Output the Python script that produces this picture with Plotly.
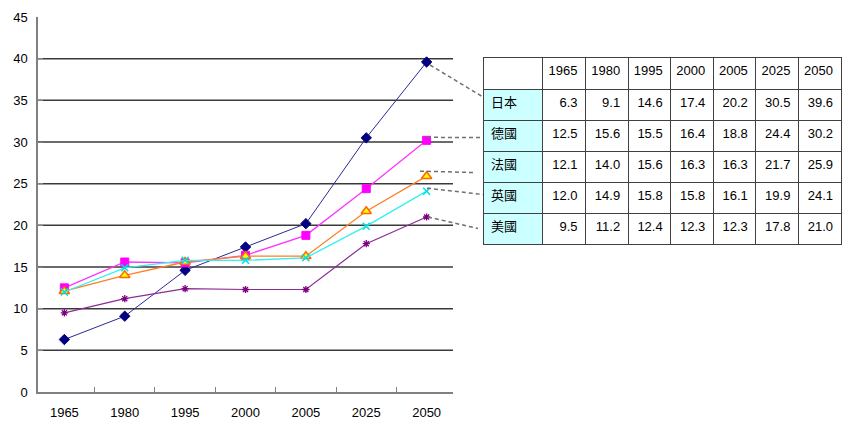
import plotly.graph_objects as go

# ---- data -------------------------------------------------------------
years = ["1965", "1980", "1995", "2000", "2005", "2025", "2050"]
countries = ["日本", "德國", "法國", "英國", "美國"]

japan = [6.3, 9.1, 14.6, 17.4, 20.2, 30.5, 39.6]
germany = [12.5, 15.6, 15.5, 16.4, 18.8, 24.4, 30.2]
france = [12.1, 14.0, 15.6, 16.3, 16.3, 21.7, 25.9]
britain = [12.0, 14.9, 15.8, 15.8, 16.1, 19.9, 24.1]
usa = [9.5, 11.2, 12.4, 12.3, 12.3, 17.8, 21.0]

y_ticks = [0, 5, 10, 15, 20, 25, 30, 35, 40, 45]
grid_values = [5, 10, 15, 20, 25, 30, 35, 40]

series = [japan, germany, france, britain, usa]

# ---- page geometry ----------------------------------------------------
W, H = 842, 423
ML, MR, MT, MB = 38, 0, 17, 31
PW, PH = W - ML - MR, H - MT - MB
PLOT_RIGHT = 453
Y_MAX = 45

def px_x(px):
    return (px - ML) / PW

def px_y(py):
    return (H - MB - py) / PH

FONT = "Liberation Sans, Noto Sans CJK TC, sans-serif"

styles = [
    dict(line=dict(color="#2a2a96", width=1),
         marker=dict(symbol="diamond", size=8, color="#000080",
                     line=dict(color="#000080", width=1))),
    dict(line=dict(color="#ff33ff", width=1.3),
         marker=dict(symbol="square", size=8, color="#ff00ff",
                     line=dict(color="#ff00ff", width=1))),
    dict(line=dict(color="#ff7f27", width=1.3),
         marker=dict(symbol="triangle-up", size=9, color="#ffff00",
                     line=dict(color="#ff6600", width=1.5))),
    dict(line=dict(color="#33f0f0", width=1.3),
         marker=dict(symbol="x-thin-open", size=7, color="#00e0e0",
                     line=dict(color="#00e0e0", width=1.5))),
    dict(line=dict(color="#8e2a96", width=1.2),
         marker=dict(symbol="asterisk-open", size=6, color="#800080",
                     line=dict(color="#800080", width=1.3))),
]

fig = go.Figure()

for name, vals, st in zip(countries, series, styles):
    fig.add_trace(go.Scatter(
        x=years, y=vals, name=name, mode="lines+markers",
        line=st["line"], marker=st["marker"],
        xaxis="x", yaxis="y", showlegend=False,
    ))

# ---- data table beside the chart ---------------------------------------
TABLE_LEFT, TABLE_RIGHT, TABLE_TOP = 483, 841, 57
HEADER_H, ROW_H = 32, 31
table_bottom = TABLE_TOP + HEADER_H + ROW_H * len(countries)

cell_cols = [countries] + [[f"{s[i]:.1f}" for s in series] for i in range(len(years))]
fill_cols = [["#ccffff"] * len(countries)] + [["#ffffff"] * len(countries)] * len(years)

fig.add_trace(go.Table(
    domain=dict(x=[px_x(TABLE_LEFT), px_x(TABLE_RIGHT)],
                y=[px_y(table_bottom + 2), px_y(TABLE_TOP)]),
    columnwidth=[60] + [42.6] * len(years),
    header=dict(values=[""] + years,
                align=["left"] + ["right"] * len(years),
                fill=dict(color="#ffffff"),
                line=dict(color="#404040", width=1),
                font=dict(family=FONT, size=13, color="#000000"),
                height=HEADER_H),
    cells=dict(values=cell_cols,
               align=["left"] + ["right"] * len(years),
               fill=dict(color=fill_cols),
               line=dict(color="#404040", width=1),
               font=dict(family=FONT, size=13, color="#000000"),
               height=ROW_H),
))

# ---- horizontal gridlines (none at the top tick) ------------------------
shapes = []
for g in grid_values:
    shapes.append(dict(type="line", xref="paper", yref="y",
                       x0=0, x1=px_x(PLOT_RIGHT), y0=g, y1=g,
                       line=dict(color="#3a3a3a", width=1.5), layer="below"))

# ---- dashed leader lines from each series end to its table row ----------
row_centers = [TABLE_TOP + HEADER_H + ROW_H * (i + 0.5) for i in range(len(countries))]
lead_start_x = [430, 427, 420, 427, 428]
lead_start_dy = [3, -3, -5, -3, 0]
lead_end_x = [483, 483, 473, 483, 478]
lead_end_dy = [-7.5, 2, 6, -3, 0]
for i, vals in enumerate(series):
    start_py = (H - MB) - vals[-1] / Y_MAX * PH + lead_start_dy[i]
    end_py = row_centers[i] + lead_end_dy[i]
    shapes.append(dict(type="line", xref="paper", yref="paper",
                       x0=px_x(lead_start_x[i]), y0=px_y(start_py),
                       x1=px_x(lead_end_x[i]), y1=px_y(end_py),
                       line=dict(color="#707070", width=1.5, dash="4px,3px")))

fig.update_layout(
    width=W, height=H,
    margin=dict(l=ML, r=MR, t=MT, b=MB, autoexpand=False),
    paper_bgcolor="#ffffff", plot_bgcolor="#ffffff",
    font=dict(family=FONT, size=13, color="#000000"),
    shapes=shapes,
    xaxis=dict(domain=[0, px_x(PLOT_RIGHT)], type="category",
               categoryorder="array", categoryarray=years,
               showgrid=False, zeroline=False,
               showline=True, linecolor="#808080", linewidth=1.5,
               ticks="inside", ticklen=5, tickwidth=1, tickcolor="#808080",
               tickson="boundaries", ticklabelstandoff=8,
               tickfont=dict(family=FONT, size=13, color="#000000"),
               automargin=False, fixedrange=True),
    yaxis=dict(domain=[0, 1], range=[0, Y_MAX],
               tickvals=y_ticks, ticktext=[str(v) for v in y_ticks],
               showgrid=False, zeroline=False,
               showline=True, linecolor="#808080", linewidth=1.5,
               ticks="inside", ticklen=5, tickwidth=1, tickcolor="#808080",
               ticklabelstandoff=6,
               tickfont=dict(family=FONT, size=13, color="#000000"),
               automargin=False, fixedrange=True),
)

fig.write_html("out.html")
